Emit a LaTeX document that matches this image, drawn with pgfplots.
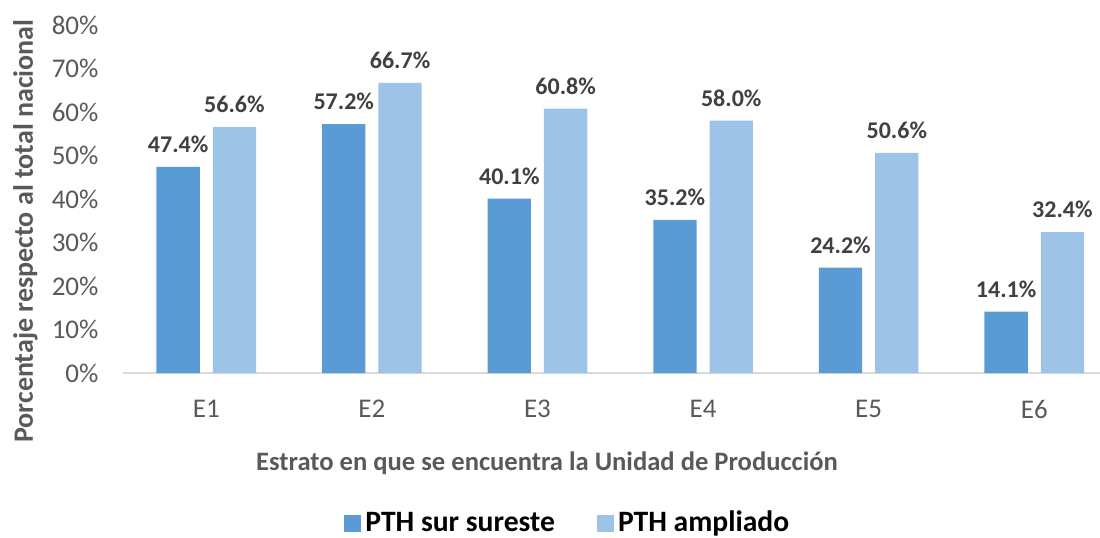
\documentclass[border=0pt]{standalone}
\usepackage{pgfplots}
\pgfplotsset{compat=1.18}
\usepackage{fontspec}
\setmainfont{Carlito}
\definecolor{darkbar}{HTML}{5B9BD5}
\definecolor{lightbar}{HTML}{9DC3E6}
\definecolor{ticktxt}{HTML}{595959}
\definecolor{labtxt}{HTML}{404040}

\begin{document}
\begin{tikzpicture}
\begin{axis}[
  scale only axis,
  width=488.25pt, height=174pt,
  ybar=6.5pt, bar width=21.65pt,
  xmin=-0.5, xmax=5.397,
  ymin=0, ymax=80,
  xtick={0,1,2,3,4,5},
  xticklabels={E1,E2,E3,E4,E5,E6},
  ytick={0,10,...,80},
  yticklabel={\pgfmathprintnumber{\tick}\%},
  /pgf/number format/assume math mode=true,
  major tick length=0pt,
  axis y line*=left,
  axis x line*=bottom,
  y axis line style={draw=none},
  x axis line style={draw=black!15, line width=1.2pt, -},
  separate axis lines,
  tick label style={font=\fontsize{13.5}{15}\selectfont, text=ticktxt},
  yticklabel style={xshift=-9pt},
  xticklabel style={yshift=-10pt},
  nodes near coords={\pgfmathprintnumber[fixed,fixed zerofill,precision=1]{\pgfplotspointmeta}\%},
  every node near coord/.append style={font=\bfseries\fontsize{12}{14}\selectfont, text=labtxt, yshift=3.5pt},
  xlabel={Estrato en que se encuentra la Unidad de Producción},
  xlabel style={at={(rel axis cs:0.4337,0)}, anchor=center, yshift=-45pt, font=\bfseries\fontsize{13.3}{15}\selectfont, text=ticktxt},
  ylabel={Porcentaje respecto al total nacional},
  ylabel style={at={(rel axis cs:0,0.408)}, anchor=center, yshift=49pt, font=\bfseries\fontsize{14}{16}\selectfont, text=ticktxt},
  legend style={at={(rel axis cs:0.456,0)}, anchor=center, yshift=-75pt, draw=none, legend columns=2, font=\bfseries\fontsize{14.8}{17}\selectfont, /tikz/every even column/.append style={column sep=19pt}},
  legend image code/.code={\fill[#1] (0pt,-4.25pt) rectangle (8.5pt,4.25pt);},
]
\addplot[fill=darkbar, draw=none] coordinates {(0,47.4) (1,57.2) (2,40.1) (3,35.2) (4,24.2) (5,14.1)};
\addplot[fill=lightbar, draw=none] coordinates {(0,56.6) (1,66.7) (2,60.8) (3,58.0) (4,50.6) (5,32.4)};
\legend{PTH sur sureste, PTH ampliado}
\end{axis}
\path (current axis.south west) ++(-61.75pt,-82pt) coordinate (bbsw);
\path (current axis.north east) ++(0pt,12.5pt) coordinate (bbne);
\pgfresetboundingbox
\useasboundingbox (bbsw) rectangle (bbne);
\end{tikzpicture}
\end{document}
